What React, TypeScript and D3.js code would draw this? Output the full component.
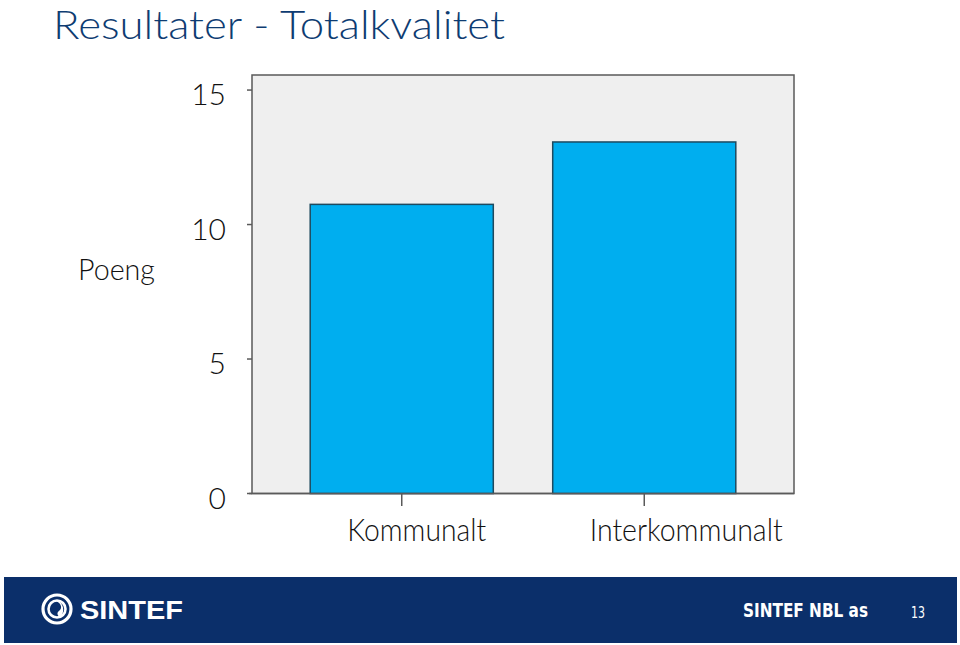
import React from "react";
import * as d3 from "d3";

const categories = ["Kommunalt", "Interkommunalt"];
const values = [10.75, 13.07];
const yTicks = [0, 5, 10, 15];
const title = "Resultater - Totalkvalitet";
const yLabel = "Poeng";
const footerLeft = "SINTEF";
const footerRight = "SINTEF NBL as";
const pageNo = "13";

const W = 960;
const H = 645;
const plot = { left: 252, right: 794, top: 75, bottom: 493.5 };
const FONT = "Lato, 'Open Sans', 'DejaVu Sans Condensed', sans-serif";
const BOLDFONT = "'DejaVu Sans Condensed', 'Liberation Sans Narrow', 'DejaVu Sans', sans-serif";

export default function App() {
  const y = d3.scaleLinear().domain([0, 15.56]).range([plot.bottom, plot.top]);
  const x = d3
    .scaleBand<string>()
    .domain(categories)
    .range([plot.left, plot.right])
    .paddingInner(0.245)
    .paddingOuter(0.24);
  const labelWidths = [139, 193];

  return (
    <svg
      width={W}
      height={H}
      style={{ position: "absolute", left: 0, top: 0, background: "#fff" }}
    >
      <rect x={0} y={0} width={W} height={H} fill="#ffffff" />
      <text
        x={53}
        y={39}
        fontFamily={FONT}
        fontWeight={300}
        fontSize={39}
        fill="#0e3c72"
        textLength={452}
        lengthAdjust="spacingAndGlyphs"
      >
        {title}
      </text>

      {/* plot area */}
      <rect
        x={plot.left}
        y={plot.top}
        width={plot.right - plot.left}
        height={plot.bottom - plot.top}
        fill="#efefef"
        stroke="#5a5a5a"
        strokeWidth={1.5}
      />

      {categories.map((c, i) => (
        <rect
          key={c}
          x={x(c)!}
          y={y(values[i])}
          width={x.bandwidth()}
          height={y(0) - y(values[i])}
          fill="#00aeef"
          stroke="#1e4a5f"
          strokeWidth={1.5}
        />
      ))}

      {/* y axis ticks */}
      {yTicks.map((t) => (
        <g key={t}>
          <line x1={247} x2={plot.left} y1={y(t)} y2={y(t)} stroke="#5a5a5a" strokeWidth={1.5} />
          <text
            x={226}
            y={y(t) + 15}
            textAnchor="end"
            fontFamily={FONT}
            fontWeight={300}
            fontSize={30}
            fill="#111111"
          >
            {t}
          </text>
        </g>
      ))}
      <line x1={plot.left - 3} x2={plot.right} y1={plot.bottom} y2={plot.bottom} stroke="#5a5a5a" strokeWidth={1.5} />

      <text
        x={78}
        y={280}
        fontFamily={FONT}
        fontWeight={300}
        fontSize={29}
        fill="#111111"
        textLength={77}
        lengthAdjust="spacingAndGlyphs"
      >
        {yLabel}
      </text>

      {/* x axis ticks and labels */}
      {categories.map((c, i) => {
        const cx = x(c)! + x.bandwidth() / 2;
        return (
          <g key={c}>
            <line x1={cx} x2={cx} y1={plot.bottom} y2={506} stroke="#5a5a5a" strokeWidth={1.5} />
            <text
              x={x(c)! + 37}
              y={541}
              fontFamily={FONT}
              fontWeight={300}
              fontSize={31}
              fill="#111111"
              textLength={labelWidths[i]}
              lengthAdjust="spacingAndGlyphs"
            >
              {c}
            </text>
          </g>
        );
      })}

      {/* footer */}
      <rect x={4} y={577} width={953} height={66} fill="#0b2f6a" />
      <g transform="translate(57,609)">
        <circle r={14} fill="none" stroke="#ffffff" strokeWidth={3.2} />
        <circle r={8.5} fill="none" stroke="#ffffff" strokeWidth={2.6} />
        <path d="M -1 -8 C 4 -6, 6 -1, 2 2 C -1 4, 1 7, 3 8 C 7 5, 8 -3, 2 -8 Z" fill="#ffffff" />
      </g>
      <text
        x={80}
        y={619}
        fontFamily="'Liberation Sans', 'DejaVu Sans', sans-serif"
        fontWeight="bold"
        fontSize={25}
        fill="#ffffff"
        textLength={103}
        lengthAdjust="spacingAndGlyphs"
      >
        {footerLeft}
      </text>
      <text
        x={743}
        y={617}
        fontFamily={BOLDFONT}
        fontWeight="bold"
        fontSize={20}
        fill="#ffffff"
        textLength={125}
        lengthAdjust="spacingAndGlyphs"
      >
        {footerRight}
      </text>
      <text x={911} y={618} fontFamily={BOLDFONT} fontSize={15} fill="#ffffff" textLength={14} lengthAdjust="spacingAndGlyphs">
        {pageNo}
      </text>
    </svg>
  );
}
